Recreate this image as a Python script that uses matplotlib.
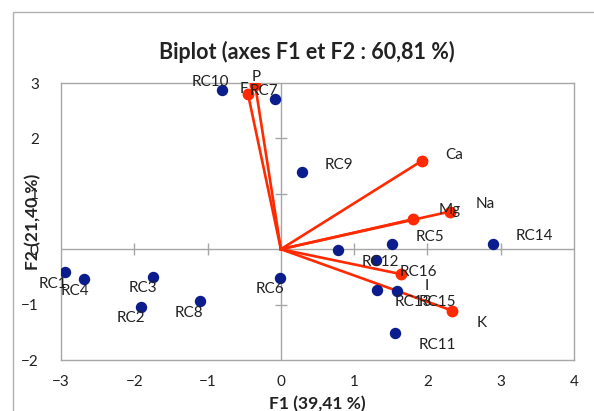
import numpy as np
import matplotlib
matplotlib.use("Agg")
import matplotlib.pyplot as plt
from matplotlib.patches import Rectangle

plt.rcParams['font.family'] = ['Lato', 'DejaVu Sans']

# observations (F1, F2)
obs_names = ["RC1", "RC2", "RC3", "RC4", "RC5", "RC6", "RC7", "RC8",
             "RC9", "RC10", "RC11", "RC12", "RC13", "RC14", "RC15", "RC16"]
obs_f1 = [-2.95, -1.91, -1.75, -2.68, 1.52, -0.01, -0.08, -1.10,
          0.29, -0.80, 1.56, 0.78, 1.31, 2.89, 1.58, 1.30]
obs_f2 = [-0.41, -1.05, -0.50, -0.53, 0.10, -0.52, 2.71, -0.93,
          1.40, 2.88, -1.51, -0.01, -0.73, 0.10, -0.75, -0.19]

# variables (F1, F2)
var_names = ["P", "F", "Ca", "Na", "Mg", "I", "K"]
var_f1 = [-0.35, -0.45, 1.93, 2.31, 1.80, 1.64, 2.34]
var_f2 = [2.96, 2.81, 1.60, 0.68, 0.54, -0.45, -1.11]

xticks = [-3, -2, -1, 0, 1, 2, 3, 4]
yticks = [-2, -1, 0, 1, 2, 3]

# label offsets in pixels (dx right, dy down)
obs_off = [(-12, 12), (-10, 11), (-10, 11), (-10, 12), (38, -7), (-10, 11),
           (-11, -8), (-11, 12), (37, -7), (-12, -8), (42, 12), (42, 12),
           (37, 12), (42, -8), (41, 11), (42, 12)]
var_off = [(1, -8), (-4, -5), (32, -6), (35, -8), (37, -9), (26, 12), (29, 12)]

blue = "#0b1d8c"
red = "#ff2a00"
grey = "#a6a6a6"
txt = "#222222"

fig = plt.figure(figsize=(5.94, 4.11), dpi=100)
fig.patches.append(Rectangle((13 / 594, -0.1), 1.2, 1 - 12 / 411 + 0.1,
                             transform=fig.transFigure, fill=False,
                             edgecolor="#b0b0b0", lw=1))
ax = fig.add_axes([61 / 594, 1 - 360 / 411, 513 / 594, 277 / 411])

ax.axhline(0, color=grey, lw=1, zorder=1)
ax.axvline(0, color=grey, lw=1, zorder=1)
tx = [t for t in xticks if t != 0 and t != xticks[0] and t != xticks[-1]]
ty = [t for t in yticks if t != 0 and t != yticks[0] and t != yticks[-1]]
ax.plot(tx, [0] * len(tx), ls="none", marker="|", ms=8, mew=1, color=grey, zorder=1)
ax.plot([0] * len(ty), ty, ls="none", marker="_", ms=8, mew=1, color=grey, zorder=1)

for x, y in zip(var_f1, var_f2):
    ax.plot([0, x], [0, y], color=red, lw=1.9, zorder=2)
ax.plot(var_f1, var_f2, ls="none", marker="o", ms=7.5, color=red, zorder=3)
ax.plot(obs_f1, obs_f2, ls="none", marker="o", ms=7.2, color=blue, zorder=4)

for name, x, y, (dx, dy) in zip(obs_names, obs_f1, obs_f2, obs_off):
    ax.annotate(name, (x, y), xytext=(dx, -dy), textcoords="offset pixels",
                ha="center", va="center", fontsize=11, color=txt, zorder=5)
for name, x, y, (dx, dy) in zip(var_names, var_f1, var_f2, var_off):
    ax.annotate(name, (x, y), xytext=(dx, -dy), textcoords="offset pixels",
                ha="center", va="center", fontsize=11, color=txt, zorder=5)

ax.set_xlim(xticks[0], xticks[-1])
ax.set_ylim(yticks[0], yticks[-1])
ax.set_xticks(xticks)
ax.set_yticks(yticks)
ax.tick_params(length=0, labelsize=11, pad=11, colors=txt)
ax.tick_params(axis="y", pad=16)
for s in ax.spines.values():
    s.set_color(grey)
    s.set_linewidth(1)

ax.set_xlabel("F1 (39,41 %)", fontsize=12.5, fontweight="bold", labelpad=5, color=txt)
ax.set_ylabel("F2 (21,40 %)", fontsize=12.5, fontweight="bold", color=txt,
              va="center")
ax.yaxis.set_label_coords((33 - 61) / 513, 0.5)
fig.text(0.516, 1 - 52 / 411, "Biplot (axes F1 et F2 : 60,81 %)",
         ha="center", va="center", fontsize=15.5, fontweight="bold", color=txt)

fig.savefig("out.png", dpi=100)
